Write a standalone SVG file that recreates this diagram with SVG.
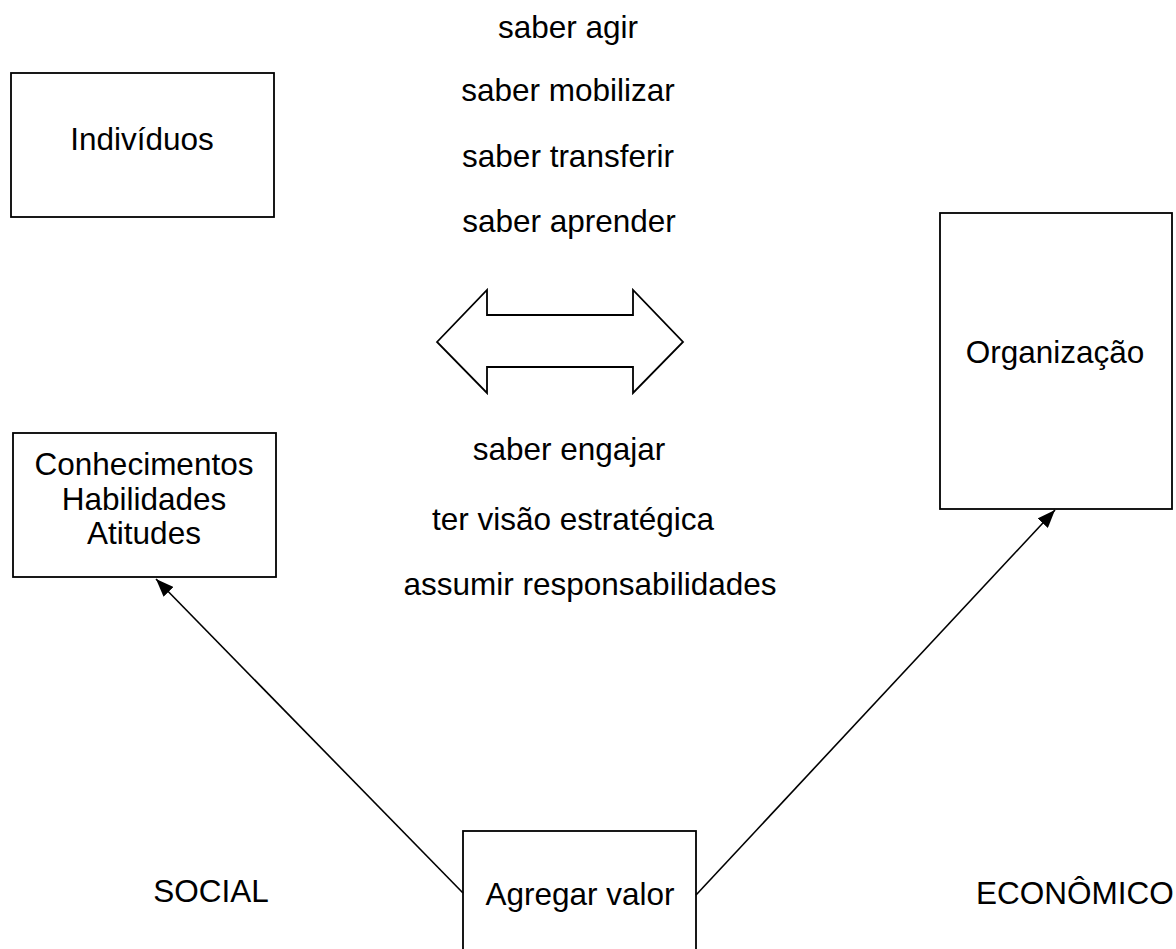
<svg xmlns="http://www.w3.org/2000/svg" width="1176" height="949" viewBox="0 0 1176 949">
<style>
text{font-family:"Liberation Sans",Arial,sans-serif;font-size:31.5px;fill:#000;text-anchor:middle}
.box{fill:#fff;stroke:#000;stroke-width:1.8}
.conn{stroke:#000;stroke-width:1.6;fill:none}
</style>
<defs>
<marker id="ah" viewBox="0 0 18 14" refX="18" refY="7" markerWidth="18" markerHeight="14" markerUnits="userSpaceOnUse" orient="auto">
<path d="M0,0 L18,7 L0,14 Z" fill="#000"/>
</marker>
</defs>
<rect width="1176" height="949" fill="#fff"/>
<g id="individuos"><rect class="box" x="11" y="73" width="263" height="144"/><text x="142" y="150">Indivíduos</text></g>
<g id="cha"><rect class="box" x="13" y="433" width="263" height="144"/><text x="144" y="475">Conhecimentos</text><text x="144" y="510">Habilidades</text><text x="144" y="544">Atitudes</text></g>
<g id="organizacao"><rect class="box" x="940" y="213" width="232" height="296"/><text x="1055" y="363">Organização</text></g>
<g id="agregar"><rect class="box" x="463" y="831" width="233" height="130"/><text x="580" y="905">Agregar valor</text></g>
<g id="double-arrow"><path class="box" d="M437,342 L487,290 L487,315 L633,315 L633,290 L683,342 L633,393 L633,367 L487,367 L487,393 Z"/></g>
<g id="labels">
<text x="568" y="38">saber agir</text>
<text x="568" y="101">saber mobilizar</text>
<text x="568" y="167">saber transferir</text>
<text x="569" y="232">saber aprender</text>
<text x="569" y="460">saber engajar</text>
<text x="573" y="530">ter visão estratégica</text>
<text x="590" y="595">assumir responsabilidades</text>
<text x="211" y="902">SOCIAL</text>
<text x="1075" y="904">ECONÔMICO</text>
</g>
<g id="connectors">
<line class="conn" x1="463" y1="893" x2="156" y2="579" marker-end="url(#ah)"/>
<line class="conn" x1="696" y1="895" x2="1055" y2="510" marker-end="url(#ah)"/>
</g>
</svg>
